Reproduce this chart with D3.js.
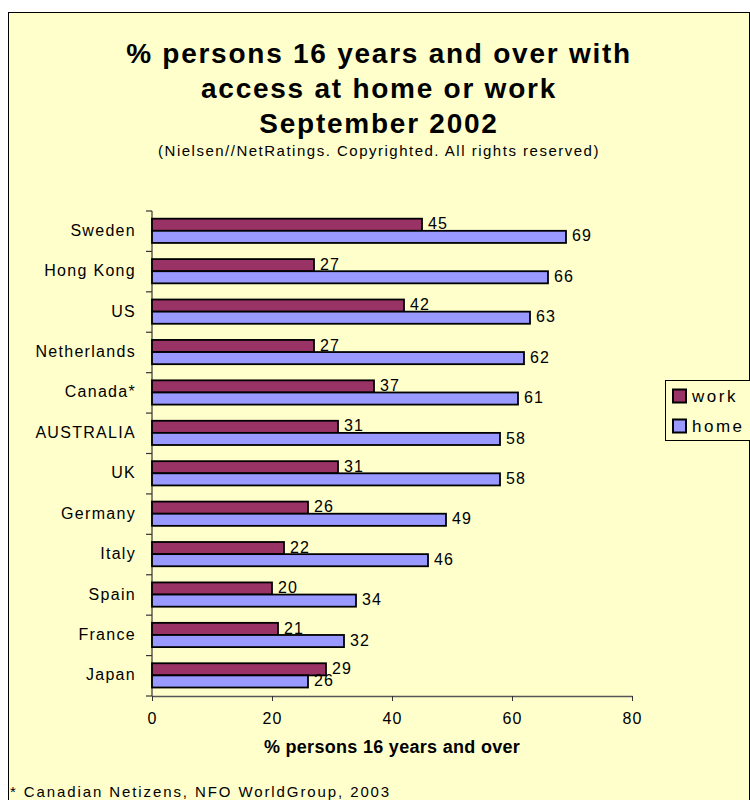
<!DOCTYPE html>
<html>
<head>
<meta charset="utf-8">
<script src="https://cdn.jsdelivr.net/npm/d3@7"></script>
<style>
  body { margin: 0; background: #ffffff; }
  svg { display: block; }
  text { font-family: "Liberation Sans", Arial, sans-serif; fill: #000; }
</style>
</head>
<body>
<svg id="chart" width="750" height="800"></svg>
<script>
const categories = ["Sweden", "Hong Kong", "US", "Netherlands", "Canada*", "AUSTRALIA", "UK", "Germany", "Italy", "Spain", "France", "Japan"];
const workValues = [45, 27, 42, 27, 37, 31, 31, 26, 22, 20, 21, 29];
const homeValues = [69, 66, 63, 62, 61, 58, 58, 49, 46, 34, 32, 26];
const seriesNames = ["work", "home"];
const seriesColors = ["#993366", "#9999FF"];
const xTicks = [0, 20, 40, 60, 80];
const titleLines = ["% persons 16 years and over with", "access at home or work", "September 2002"];
const subtitle = "(Nielsen//NetRatings. Copyrighted. All rights reserved)";
const xTitle = "% persons 16 years and over";
const footnote = "* Canadian Netizens, NFO WorldGroup, 2003";

const svg = d3.select("#chart");

// frame
svg.append("rect").attr("x", 8.5).attr("y", 12.5).attr("width", 741).attr("height", 800)
  .attr("fill", "#FFFFCC").attr("stroke", "#000").attr("stroke-width", 1);

// titles
const cx = 379;
const titleY = [63, 98, 133];
titleLines.forEach((t, i) => {
  svg.append("text").attr("x", cx).attr("y", titleY[i]).attr("text-anchor", "middle")
    .attr("font-size", 28).attr("font-weight", "bold").attr("letter-spacing", 1.75).text(t);
});
svg.append("text").attr("x", cx).attr("y", 156).attr("text-anchor", "middle")
  .attr("font-size", 15).attr("letter-spacing", 1.5).text(subtitle);

// scales
const x = d3.scaleLinear().domain([0, 80]).range([152, 632]);
const y = d3.scaleBand().domain(categories).range([211, 696]).padding(0);
const bw = y.bandwidth();
const barH = bw * 0.3;
const barTop = bw * 0.19;

// x axis
const xAxis = svg.append("g").attr("transform", "translate(0,696)")
  .call(d3.axisBottom(x).tickValues(xTicks).tickSize(5).tickSizeOuter(0).tickPadding(12));
xAxis.select(".domain").attr("stroke", "#555").attr("stroke-width", 1.3);
xAxis.selectAll(".tick line").attr("stroke", "#333");
xAxis.selectAll(".tick text").attr("font-size", 16).attr("letter-spacing", 1.2)
  .attr("font-family", "Liberation Sans, Arial, sans-serif").attr("fill", "#000");

// y axis line and ticks at band boundaries
svg.append("line").attr("x1", 152).attr("x2", 152).attr("y1", 211).attr("y2", 696)
  .attr("stroke", "#333").attr("stroke-width", 1.2);
const bounds = categories.map(c => y(c)).concat([y.range()[1]]);
svg.selectAll(".ytick").data(bounds).enter().append("line")
  .attr("x1", 146).attr("x2", 152).attr("y1", d => d).attr("y2", d => d)
  .attr("stroke", "#333").attr("stroke-width", 1.2);

// category labels
svg.selectAll(".cat").data(categories).enter().append("text")
  .attr("x", 136).attr("y", d => y(d) + bw / 2 - 1).attr("dy", "0.35em")
  .attr("text-anchor", "end").attr("font-size", 16).attr("letter-spacing", 1.3)
  .text(d => d);

// bars
const series = [workValues, homeValues];
series.forEach((vals, si) => {
  const g = svg.append("g");
  g.selectAll("rect").data(vals).enter().append("rect")
    .attr("x", x(0))
    .attr("y", (d, i) => y(categories[i]) + barTop + si * barH)
    .attr("width", d => x(d) - x(0))
    .attr("height", barH)
    .attr("fill", seriesColors[si]).attr("stroke", "#000").attr("stroke-width", 1.8);
  g.selectAll("text").data(vals).enter().append("text")
    .attr("x", d => x(d) + 6)
    .attr("y", (d, i) => y(categories[i]) + barTop + si * barH + barH / 2 - 1)
    .attr("dy", "0.35em").attr("font-size", 16).attr("letter-spacing", 1.2)
    .text(d => d);
});

// legend
svg.append("rect").attr("x", 665.5).attr("y", 380.5).attr("width", 90).attr("height", 60)
  .attr("fill", "#FFFFCC").attr("stroke", "#000").attr("stroke-width", 1);
seriesNames.forEach((n, i) => {
  const ly = 396 + i * 30;
  svg.append("rect").attr("x", 673).attr("y", ly - 6.5).attr("width", 13).attr("height", 13)
    .attr("fill", seriesColors[i]).attr("stroke", "#000").attr("stroke-width", 2);
  svg.append("text").attr("x", 692).attr("y", ly).attr("dy", "0.35em")
    .attr("font-size", 17).attr("letter-spacing", 2.5).text(n);
});

// axis title
svg.append("text").attr("x", 392).attr("y", 753).attr("text-anchor", "middle")
  .attr("font-size", 18).attr("font-weight", "bold").attr("letter-spacing", 0.3).text(xTitle);

// footnote
svg.append("text").attr("x", 10).attr("y", 797).attr("font-size", 15).attr("letter-spacing", 1.9)
  .text(footnote);
</script>
</body>
</html>
